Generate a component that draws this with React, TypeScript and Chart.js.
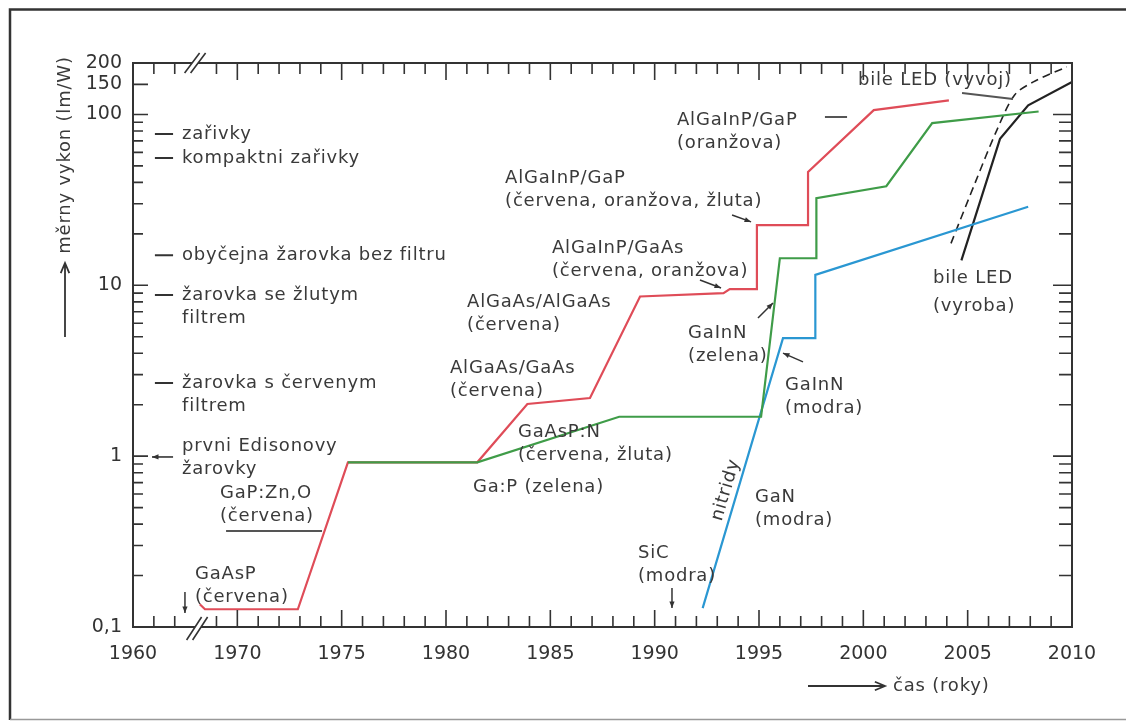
import React, { useEffect, useRef } from 'react';
import { Chart, registerables } from 'chart.js';

Chart.register(...registerables);

// ---------------- data (year, lm/W) ----------------
const redYears = [1968.2, 1968.45, 1972.9, 1975.3, 1981.5, 1983.9, 1986.9, 1989.3, 1993.3, 1993.6, 1994.9, 1994.9, 1997.35, 1997.35, 2000.5, 2004.1];
const redValues = [0.136, 0.127, 0.127, 0.92, 0.92, 2.02, 2.19, 8.6, 9.0, 9.5, 9.5, 22.5, 22.5, 46, 106, 121];

const greenYears = [1975.3, 1981.5, 1988.3, 1995.1, 1996.0, 1997.75, 1997.75, 2001.1, 2003.3, 2008.4];
const greenValues = [0.92, 0.92, 1.7, 1.7, 14.4, 14.4, 32.3, 38, 89, 104];

const blueYears = [1992.3, 1996.15, 1997.7, 1997.7, 2007.9];
const blueValues = [0.129, 4.9, 4.9, 11.5, 28.8];

const whiteProdYears = [2004.7, 2006.55, 2007.9, 2010];
const whiteProdValues = [14.0, 72, 113, 155];

const whiteDevYears = [2004.2, 2005.4, 2006.4, 2007.25, 2008.15, 2009.75];
const whiteDevValues = [17.6, 41, 81, 130, 155, 190];

// ---------------- axes ----------------
const xTickYears = [1965, 1970, 1975, 1980, 1985, 1990, 1995, 2000, 2005, 2010];
const xTickLabels = ['1960', '1970', '1975', '1980', '1985', '1990', '1995', '2000', '2005', '2010'];
const xBreakYear = 1968;

const yTickValues = [0.1, 1, 10, 100, 150, 200];
const yTickLabels = ['0,1', '1', '10', '100', '150', '200'];

// ---------------- annotations ----------------
const lampLabels = [
  { value: 76.8, lines: ['zařivky'] },
  { value: 55.6, lines: ['kompaktni zařivky'] },
  { value: 15.0, lines: ['obyčejna žarovka bez filtru'] },
  { value: 8.77, lines: ['žarovka se žlutym', 'filtrem'] },
  { value: 2.68, lines: ['žarovka s červenym', 'filtrem'] },
];
const edisonLabel = { value: 1.147, arrowValue: 0.989, lines: ['prvni Edisonovy', 'žarovky'] };
const lampTextYear = 1967.35;
const lampDashYears = [1966.05, 1966.92];
const edisonArrowYears = [1966.92, 1965.91];

const ledLabels = [
  { year: 1969.17, value: 0.609, lines: ['GaP:Zn,O', '(červena)'] },
  { year: 1967.97, value: 0.2043, lines: ['GaAsP', '(červena)'] },
  { year: 1991.07, value: 92.8, lines: ['AlGaInP/GaP', '(oranžova)'] },
  { year: 1999.74, value: 159, lines: ['bile LED (vyvoj)'] },
  { year: 2003.34, value: 11.03, lines: ['bile LED', '(vyroba)'], gap: 28 },
  { year: 1982.83, value: 42.5, lines: ['AlGaInP/GaP', '(červena, oranžova, žluta)'] },
  { year: 1985.08, value: 16.5, lines: ['AlGaInP/GaAs', '(červena, oranžova)'] },
  { year: 1981.01, value: 7.98, lines: ['AlGaAs/AlGaAs', '(červena)'] },
  { year: 1980.19, value: 3.28, lines: ['AlGaAs/GaAs', '(červena)'] },
  { year: 1983.45, value: 1.385, lines: ['GaAsP:N', '(červena, žluta)'] },
  { year: 1981.29, value: 0.66, lines: ['Ga:P (zelena)'] },
  { year: 1991.6, value: 5.26, lines: ['GaInN', '(zelena)'] },
  { year: 1996.25, value: 2.61, lines: ['GaInN', '(modra)'] },
  { year: 1994.81, value: 0.5767, lines: ['GaN', '(modra)'] },
  { year: 1989.2, value: 0.2711, lines: ['SiC', '(modra)'] },
];
const rotatedLabel = { year: 1993.42, value: 0.6335, text: 'nitridy', angle: -73.5 };

const pointerArrows = [
  { from: [1993.71, 25.8], to: [1994.62, 23.5] },
  { from: [1992.17, 10.74], to: [1993.18, 9.64] },
  { from: [1994.95, 6.43], to: [1995.67, 7.88] },
  { from: [1997.11, 3.56], to: [1996.15, 4.01] },
  { from: [1967.49, 0.1603], to: [1967.49, 0.1207] },
  { from: [1990.83, 0.1692], to: [1990.83, 0.1292] },
];
const leaderLines = [
  { from: [1969.46, 0.3646], to: [1974.06, 0.3646] },
  { from: [1998.16, 96.6], to: [1999.22, 96.6] },
  { from: [2004.73, 133.5], to: [2007.17, 123.1] },
];

const yAxisTitle = 'měrny vykon (lm/W)';
const xAxisTitle = 'čas (roky)';

// ---------------- style ----------------
const RED = '#df4c58';
const GREEN = '#3f9c48';
const BLUE = '#2a97d2';
const BLACK = '#222222';
const TEXT = '#3a3a3a';
const AXIS = '#333333';
const FONT = '"DejaVu Sans", sans-serif';

const pts = (xs: number[], ys: number[]) => xs.map((x, i) => ({ x, y: ys[i] }));

function fillArrow(ctx: CanvasRenderingContext2D, x1: number, y1: number, x2: number, y2: number, head = 7) {
  ctx.beginPath();
  ctx.moveTo(x1, y1);
  ctx.lineTo(x2, y2);
  ctx.stroke();
  const ang = Math.atan2(y2 - y1, x2 - x1);
  ctx.beginPath();
  ctx.moveTo(x2, y2);
  ctx.lineTo(x2 - head * Math.cos(ang - 0.38), y2 - head * Math.sin(ang - 0.38));
  ctx.lineTo(x2 - head * Math.cos(ang + 0.38), y2 - head * Math.sin(ang + 0.38));
  ctx.closePath();
  ctx.fill();
}

function openArrow(ctx: CanvasRenderingContext2D, x1: number, y1: number, x2: number, y2: number, head = 11) {
  ctx.beginPath();
  ctx.moveTo(x1, y1);
  ctx.lineTo(x2, y2);
  const ang = Math.atan2(y2 - y1, x2 - x1);
  ctx.moveTo(x2 - head * Math.cos(ang - 0.4), y2 - head * Math.sin(ang - 0.4));
  ctx.lineTo(x2, y2);
  ctx.lineTo(x2 - head * Math.cos(ang + 0.4), y2 - head * Math.sin(ang + 0.4));
  ctx.stroke();
}

const decorPlugin = {
  id: 'decor',
  afterDraw(chart: any) {
    const { ctx, chartArea: a, scales } = chart;
    const xs = scales.x;
    const ys = scales.y;
    const X = (v: number) => xs.getPixelForValue(v);
    const Y = (v: number) => ys.getPixelForValue(v);
    const W = chart.width;
    const H = chart.height;
    ctx.save();

    // page frame
    ctx.lineCap = 'butt';
    ctx.strokeStyle = '#333';
    ctx.lineWidth = 2.5;
    ctx.beginPath();
    ctx.moveTo(10, H - 2);
    ctx.lineTo(10, 9.5);
    ctx.lineTo(W, 9.5);
    ctx.stroke();
    ctx.strokeStyle = '#999';
    ctx.lineWidth = 1.5;
    ctx.beginPath();
    ctx.moveTo(10, H - 2.5);
    ctx.lineTo(W, H - 2.5);
    ctx.stroke();

    // axes box
    ctx.strokeStyle = AXIS;
    ctx.lineWidth = 2;
    ctx.strokeRect(a.left, a.top, a.right - a.left, a.bottom - a.top);

    // tick marks (inward)
    ctx.lineWidth = 1.6;
    ctx.beginPath();
    for (let yr = 1966; yr < 2010; yr++) {
      if (yr === xBreakYear) continue;
      const len = yr % 5 === 0 ? 17 : 11;
      const px = X(yr);
      ctx.moveTo(px, a.bottom);
      ctx.lineTo(px, a.bottom - len);
      ctx.moveTo(px, a.top);
      ctx.lineTo(px, a.top + len);
    }
    const yMinor: number[] = [];
    [0.1, 1, 10].forEach((d) => {
      for (let m = 2; m <= 9; m++) yMinor.push(m * d);
    });
    const yMajor = [1, 10, 100];
    yMinor.forEach((v) => {
      const py = Y(v);
      ctx.moveTo(a.left, py);
      ctx.lineTo(a.left + 10, py);
      ctx.moveTo(a.right, py);
      ctx.lineTo(a.right - 13, py);
    });
    yMajor.forEach((v) => {
      const py = Y(v);
      ctx.moveTo(a.left, py);
      ctx.lineTo(a.left + 15, py);
      ctx.moveTo(a.right, py);
      ctx.lineTo(a.right - 19, py);
    });
    const p150 = Y(150);
    ctx.moveTo(a.left, p150);
    ctx.lineTo(a.left + 15, p150);
    ctx.stroke();

    // axis break marks
    const bx = X(xBreakYear);
    const drawBreak = (yBase: number, down: number, up: number, x0: number, x1: number) => {
      ctx.fillStyle = '#fff';
      ctx.beginPath();
      ctx.moveTo(bx + x0, yBase + down);
      ctx.lineTo(bx + x1, yBase - up);
      ctx.lineTo(bx + x1 + 6, yBase - up);
      ctx.lineTo(bx + x0 + 6, yBase + down);
      ctx.closePath();
      ctx.fill();
      ctx.strokeStyle = AXIS;
      ctx.lineWidth = 1.6;
      ctx.beginPath();
      ctx.moveTo(bx + x0, yBase + down);
      ctx.lineTo(bx + x1, yBase - up);
      ctx.moveTo(bx + x0 + 6, yBase + down);
      ctx.lineTo(bx + x1 + 6, yBase - up);
      ctx.stroke();
    };
    drawBreak(a.bottom, 13, 10, -9, 6);
    drawBreak(a.top, 10, 10, -11, 4);

    // texts
    ctx.fillStyle = TEXT;
    ctx.strokeStyle = '#444';
    ctx.font = `18px ${FONT}`;
    (ctx as any).letterSpacing = '0.8px';
    ctx.textAlign = 'left';
    ctx.textBaseline = 'middle';
    const lh = 23;
    const drawLines = (x: number, y: number, lines: string[], gap = lh) => {
      lines.forEach((t, i) => ctx.fillText(t, x, y + i * gap));
    };

    lampLabels.forEach((l) => {
      drawLines(X(lampTextYear), Y(l.value), l.lines);
    });
    drawLines(X(lampTextYear), Y(edisonLabel.value), edisonLabel.lines);
    ledLabels.forEach((l: any) => drawLines(X(l.year), Y(l.value), l.lines, l.gap || lh));

    // rotated label
    ctx.save();
    ctx.translate(X(rotatedLabel.year), Y(rotatedLabel.value));
    ctx.rotate((rotatedLabel.angle * Math.PI) / 180);
    ctx.textAlign = 'center';
    ctx.fillText(rotatedLabel.text, 0, 0);
    ctx.restore();

    // lamp dashes
    ctx.strokeStyle = '#333';
    ctx.lineWidth = 2;
    ctx.beginPath();
    lampLabels.forEach((l) => {
      ctx.moveTo(X(lampDashYears[0]), Y(l.value));
      ctx.lineTo(X(lampDashYears[1]), Y(l.value));
    });
    ctx.stroke();
    ctx.fillStyle = '#333';
    ctx.lineWidth = 1.6;
    fillArrow(ctx, X(edisonArrowYears[0]), Y(edisonLabel.arrowValue), X(edisonArrowYears[1]), Y(edisonLabel.arrowValue), 7);

    // leader lines
    ctx.strokeStyle = '#555';
    ctx.lineWidth = 1.8;
    ctx.beginPath();
    leaderLines.forEach((l) => {
      ctx.moveTo(X(l.from[0]), Y(l.from[1]));
      ctx.lineTo(X(l.to[0]), Y(l.to[1]));
    });
    ctx.stroke();

    // pointer arrows
    ctx.strokeStyle = '#333';
    ctx.fillStyle = '#333';
    ctx.lineWidth = 1.5;
    pointerArrows.forEach((p) => fillArrow(ctx, X(p.from[0]), Y(p.from[1]), X(p.to[0]), Y(p.to[1]), 7));

    // axis titles
    ctx.fillStyle = TEXT;
    ctx.save();
    ctx.translate(a.left - 68, a.top + 92);
    ctx.rotate(-Math.PI / 2);
    ctx.textAlign = 'center';
    ctx.fillText(yAxisTitle, 0, 0);
    ctx.restore();
    ctx.strokeStyle = '#333';
    ctx.lineWidth = 1.8;
    openArrow(ctx, a.left - 68, a.top + 274, a.left - 68, a.top + 200, 11);

    openArrow(ctx, a.right - 264, a.bottom + 59, a.right - 187, a.bottom + 59, 11);
    ctx.textAlign = 'left';
    ctx.fillText(xAxisTitle, a.right - 179, a.bottom + 59);

    ctx.restore();
  },
};

export default function App() {
  const ref = useRef<HTMLCanvasElement | null>(null);

  useEffect(() => {
    if (!ref.current) return;
    const chart = new Chart(ref.current, {
      type: 'line',
      data: {
        datasets: [
          { label: 'zelené LED', data: pts(greenYears, greenValues), borderColor: GREEN, borderWidth: 2.2, pointRadius: 0, tension: 0, order: 0 },
          { label: 'červené LED', data: pts(redYears, redValues), borderColor: RED, borderWidth: 2.2, pointRadius: 0, tension: 0, order: 1 },
          { label: 'modré LED', data: pts(blueYears, blueValues), borderColor: BLUE, borderWidth: 2.2, pointRadius: 0, tension: 0, order: 2 },
          { label: 'bílé LED (výroba)', data: pts(whiteProdYears, whiteProdValues), borderColor: BLACK, borderWidth: 2.2, pointRadius: 0, tension: 0, order: 3 },
          { label: 'bílé LED (vývoj)', data: pts(whiteDevYears, whiteDevValues), borderColor: BLACK, borderWidth: 1.6, borderDash: [8, 5], pointRadius: 0, tension: 0.3, order: 4 },
        ],
      },
      options: {
        responsive: false,
        animation: false,
        devicePixelRatio: 1,
        layout: { padding: { top: 63, right: 54, left: 0, bottom: 0 } },
        plugins: { legend: { display: false }, tooltip: { enabled: false } },
        scales: {
          x: {
            type: 'linear',
            min: 1965,
            max: 2010,
            grid: { display: false, drawTicks: false },
            border: { display: false },
            afterBuildTicks: (s: any) => {
              s.ticks = xTickYears.map((v) => ({ value: v }));
            },
            afterFit: (s: any) => {
              s.height = 95;
            },
            ticks: {
              autoSkip: false,
              maxRotation: 0,
              padding: 16,
              color: AXIS,
              font: { family: FONT, size: 19 },
              callback: (v: any) => {
                const i = xTickYears.indexOf(Number(v));
                return i >= 0 ? xTickLabels[i] : '';
              },
            },
          },
          y: {
            type: 'logarithmic',
            min: 0.1,
            max: 200,
            grid: { display: false, drawTicks: false },
            border: { display: false },
            afterBuildTicks: (s: any) => {
              s.ticks = yTickValues.map((v) => ({ value: v }));
            },
            afterFit: (s: any) => {
              s.width = 133;
            },
            ticks: {
              autoSkip: false,
              padding: 11,
              color: AXIS,
              font: { family: FONT, size: 19 },
              callback: (v: any) => {
                const i = yTickValues.findIndex((t) => Math.abs(t - Number(v)) < 1e-9);
                return i >= 0 ? yTickLabels[i] : '';
              },
            },
          },
        },
      } as any,
      plugins: [decorPlugin],
    });
    return () => chart.destroy();
  }, []);

  return (
    <div style={{ position: 'absolute', left: 0, top: 0, width: 1126, height: 722, background: '#fff', overflow: 'hidden' }}>
      <canvas ref={ref} width={1126} height={722} style={{ display: 'block' }} />
    </div>
  );
}
